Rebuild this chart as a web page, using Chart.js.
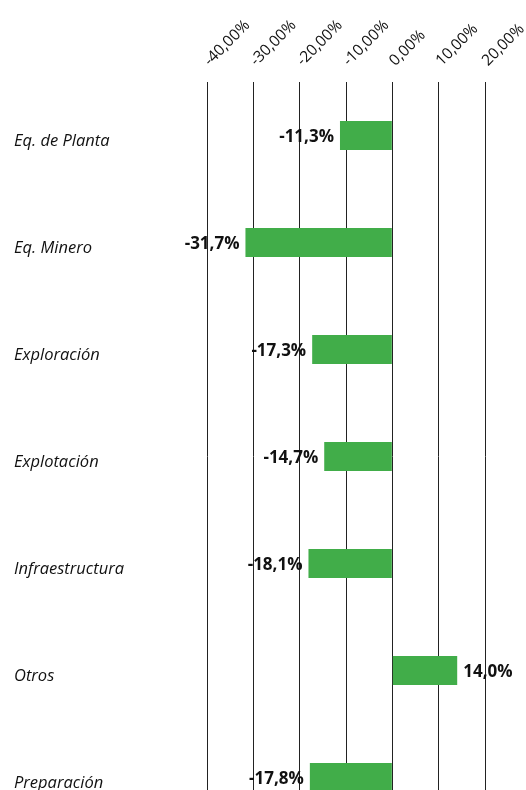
<!DOCTYPE html>
<html>
<head>
<meta charset="utf-8">
<script src="https://cdn.jsdelivr.net/npm/chart.js@4/dist/chart.umd.min.js"></script>
<style>
  html, body { margin: 0; padding: 0; background: #fff; overflow: hidden; }
  #wrap { width: 526px; height: 831px; position: relative; }
</style>
</head>
<body>
<div id="wrap"><canvas id="c"></canvas></div>
<script>
const categories = ["Eq. de Planta", "Eq. Minero", "Exploración", "Explotación", "Infraestructura", "Otros", "Preparación"];
const values = [-11.3, -31.7, -17.3, -14.7, -18.1, 14.0, -17.8];
const xTickMin = -40;
const xTickMax = 20;
const xTickStep = 10;

const fmtTick = v => v.toFixed(2).replace('.', ',') + '%';
const fmtLabel = v => v.toFixed(1).replace('.', ',') + '%';

const valueLabels = {
  id: 'valueLabels',
  afterDatasetsDraw(chart) {
    const ctx = chart.ctx;
    const meta = chart.getDatasetMeta(0);
    ctx.save();
    ctx.font = 'bold 17px "Open Sans", sans-serif';
    ctx.fillStyle = '#111';
    ctx.textBaseline = 'middle';
    meta.data.forEach((bar, i) => {
      const v = values[i];
      if (v < 0) {
        ctx.textAlign = 'right';
        ctx.fillText(fmtLabel(v), bar.x - 6, bar.y + 2);
      } else {
        ctx.textAlign = 'left';
        ctx.fillText(fmtLabel(v), bar.x + 6, bar.y + 2);
      }
    });
    ctx.restore();
  }
};

new Chart(document.getElementById('c'), {
  type: 'bar',
  data: {
    labels: categories,
    datasets: [{
      data: values,
      backgroundColor: '#41ad49',
      borderWidth: 0,
      barPercentage: 0.27,
      categoryPercentage: 1.0
    }]
  },
  options: {
    indexAxis: 'y',
    responsive: true,
    maintainAspectRatio: false,
    animation: false,
    layout: { padding: { left: 14, right: 41, top: 0, bottom: 0 } },
    plugins: { legend: { display: false }, tooltip: { enabled: false } },
    scales: {
      x: {
        position: 'top',
        min: xTickMin,
        max: xTickMax,
        ticks: {
          stepSize: xTickStep,
          minRotation: 45,
          maxRotation: 45,
          padding: 12,
          labelOffset: 13,
          color: '#111',
          font: { family: '"Open Sans", sans-serif', size: 15.5 },
          callback: v => fmtTick(v)
        },
        grid: { color: '#222', lineWidth: 1, drawTicks: false },
        border: { display: false },
        afterFit(scale) {
          scale.height = 82;
          scale.paddingLeft = 0;
          scale.paddingRight = 0;
        }
      },
      y: {
        ticks: {
          crossAlign: 'far',
          labelOffset: 6,
          color: '#111',
          font: { family: '"Open Sans", sans-serif', size: 16.5, style: 'italic' }
        },
        grid: { display: false },
        border: { display: false },
        afterFit(scale) {
          scale.width = 193;
          scale.paddingTop = 0;
          scale.paddingBottom = 0;
        }
      }
    }
  },
  plugins: [valueLabels]
});
</script>
</body>
</html>
